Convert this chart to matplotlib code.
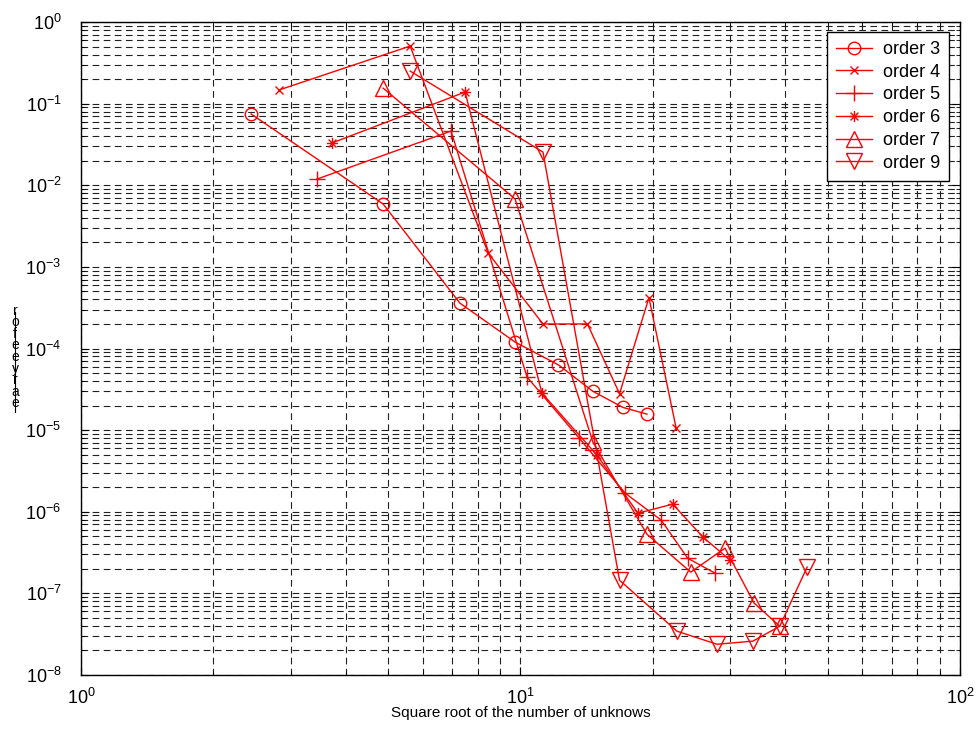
import matplotlib
matplotlib.use("Agg")
import matplotlib.pyplot as plt
from matplotlib.lines import Line2D
from matplotlib.path import Path

plt.rcParams['font.family'] = ['Liberation Sans', 'DejaVu Sans']
plt.rcParams['mathtext.fontset'] = 'custom'
plt.rcParams['mathtext.rm'] = 'Liberation Sans'
plt.rcParams['mathtext.it'] = 'Liberation Sans'
plt.rcParams['axes.unicode_minus'] = False

# sqrt(#unknowns) and error for each polynomial order
x_order3 = [2.44, 4.87, 7.28, 9.72, 12.2, 14.6, 17.1, 19.4]
y_order3 = [0.0746, 0.0059, 3.6e-4, 1.2e-4, 6.3e-5, 3.0e-5, 1.9e-5, 1.57e-5]

x_order4 = [2.82, 5.61, 8.44, 11.25, 14.2, 16.8, 19.6, 22.6]
y_order4 = [0.147, 0.508, 1.48e-3, 2.0e-4, 2.0e-4, 2.8e-5, 4.2e-4, 1.06e-5]

x_order5 = [3.44, 6.95, 10.35, 13.6, 17.3, 20.9, 24.0, 27.7]
y_order5 = [0.0119, 0.0462, 4.47e-5, 7.98e-6, 1.69e-6, 7.9e-7, 2.7e-7, 1.77e-7]

x_order6 = [3.72, 7.48, 11.19, 14.93, 18.5, 22.2, 26.0, 30.0]
y_order6 = [0.0329, 0.139, 2.84e-5, 4.94e-6, 9.6e-7, 1.24e-6, 4.9e-7, 2.55e-7]

x_order7 = [4.87, 9.72, 14.62, 19.4, 24.4, 29.2, 34.0, 38.9]
y_order7 = [0.155, 6.8e-3, 7.1e-6, 5.3e-7, 1.82e-7, 3.58e-7, 7.6e-8, 3.96e-8]

x_order9 = [5.61, 11.25, 16.8, 22.7, 28.0, 33.8, 38.9, 44.9]
y_order9 = [0.251, 0.0255, 1.45e-7, 3.44e-8, 2.38e-8, 2.6e-8, 3.96e-8, 2.1e-7]

labels = ['order 3', 'order 4', 'order 5', 'order 6', 'order 7', 'order 9']

# asterisk marker: plus and cross strokes on top of each other
d = 0.7071
asterisk = Path([(-1, 0), (1, 0), (0, -1), (0, 1), (-d, -d), (d, d), (-d, d), (d, -d)],
                [Path.MOVETO, Path.LINETO] * 4)

fig = plt.figure(figsize=(9.78, 7.36), dpi=100)
ax = fig.add_axes([0.0828, 0.0829, 0.8988, 0.8871])

red = '#ff0000'
common = dict(color=red, lw=1.0, mfc='none', mec=red, mew=1.0)
ax.plot(x_order3, y_order3, marker='o', ms=9, label=labels[0], **common)
ax.plot(x_order4, y_order4, marker='x', ms=5.5, label=labels[1], **common)
ax.plot(x_order5, y_order5, marker='+', ms=11, label=labels[2], **common)
ax.plot(x_order6, y_order6, marker=asterisk, ms=8, label=labels[3], **common)
ax.plot(x_order7, y_order7, marker='^', ms=11, label=labels[4], **common)
ax.plot(x_order9, y_order9, marker='v', ms=11, label=labels[5], **common)

ax.set_xscale('log')
ax.set_yscale('log')
ax.set_xlim(1, 100)
ax.set_ylim(1e-8, 1)

ax.grid(True, which='both', color='#202020', ls=(0, (6, 4)), lw=0.8)
ax.tick_params(which='both', direction='in', top=True, right=True, labelsize=13,
               colors='black')
ax.tick_params(axis='x', which='major', length=6, pad=9)
ax.tick_params(axis='y', which='major', length=6, pad=14)
ax.tick_params(which='minor', length=3)
for s in ax.spines.values():
    s.set_linewidth(1.0)

ax.set_xlabel('Square root of the number of unknows', fontsize=11, labelpad=-1)

# y label rendered as a collapsed column of glyphs
ylab = '\n'.join(['r', 'o', 'f', 'e', 'e', 'y', 'r', 'a', 'e'])
fig.text(15 / 978, 1 - 357 / 736, ylab, fontsize=10, ha='center', va='center',
         linespacing=0.78)
fig.add_artist(Line2D([15 / 978, 15 / 978], [1 - 312 / 736, 1 - 412 / 736],
                      color='black', lw=0.8))

leg = ax.legend(loc='upper right', bbox_to_anchor=(0.9875, 0.985), fontsize=13,
                fancybox=False, framealpha=1, edgecolor='black',
                handlelength=2.0, handletextpad=0.6, borderpad=0.5,
                labelspacing=0.32, borderaxespad=0)
leg.get_frame().set_linewidth(1.0)

fig.savefig('out.png', dpi=100)
